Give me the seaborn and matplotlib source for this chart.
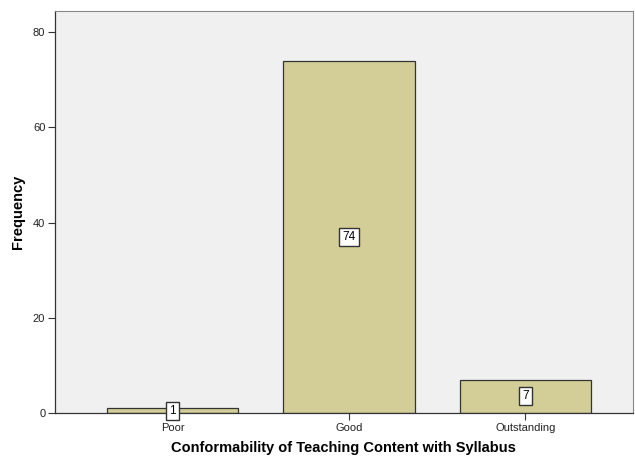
import matplotlib
matplotlib.use('Agg')
import matplotlib.pyplot as plt
import seaborn as sns
import pandas as pd

# Data
categories = ['Poor', 'Good', 'Outstanding']
frequencies = [1, 74, 7]

df = pd.DataFrame({'rating': categories, 'count': frequencies})

sns.set_style('ticks')
plt.rcParams['font.family'] = ['Liberation Sans', 'DejaVu Sans']

fig = plt.figure(figsize=(6.35, 4.58), dpi=100)
ax = fig.add_axes([0.0866, 0.098, 0.91, 0.878])
ax.set_facecolor('#f0f0f0')

sns.barplot(data=df, x='rating', y='count', color='#d3ce97', saturation=1,
            edgecolor='#333333', linewidth=0.9, width=0.745, ax=ax)

# value labels in white boxes at bar middle
for cont in ax.containers:
    ax.bar_label(cont, label_type='center', fontsize=8.5, color='black',
                 bbox=dict(boxstyle='square,pad=0.25', fc='white', ec='#333333', lw=1.0))

ax.set_xlim(-0.667, 2.61)
ax.set_ylim(0, 84.4)
ax.set_yticks([0, 20, 40, 60, 80])
ax.tick_params(axis='both', labelsize=8, length=5, width=0.8, color='#333333',
               labelcolor='#222222', pad=2, left=True, bottom=True)
ax.set_xlabel('Conformability of Teaching Content with Syllabus', fontsize=10.5,
              fontweight='bold', color='black', labelpad=6)
ax.set_ylabel('Frequency', fontsize=10.5, fontweight='bold', color='black', labelpad=6)

for s in ['left', 'bottom']:
    ax.spines[s].set_visible(True)
    ax.spines[s].set_color('#333333')
    ax.spines[s].set_linewidth(0.9)
for s in ['top', 'right']:
    ax.spines[s].set_visible(True)
    ax.spines[s].set_color('#888888')
    ax.spines[s].set_linewidth(0.8)

fig.savefig('out.png', dpi=100)
